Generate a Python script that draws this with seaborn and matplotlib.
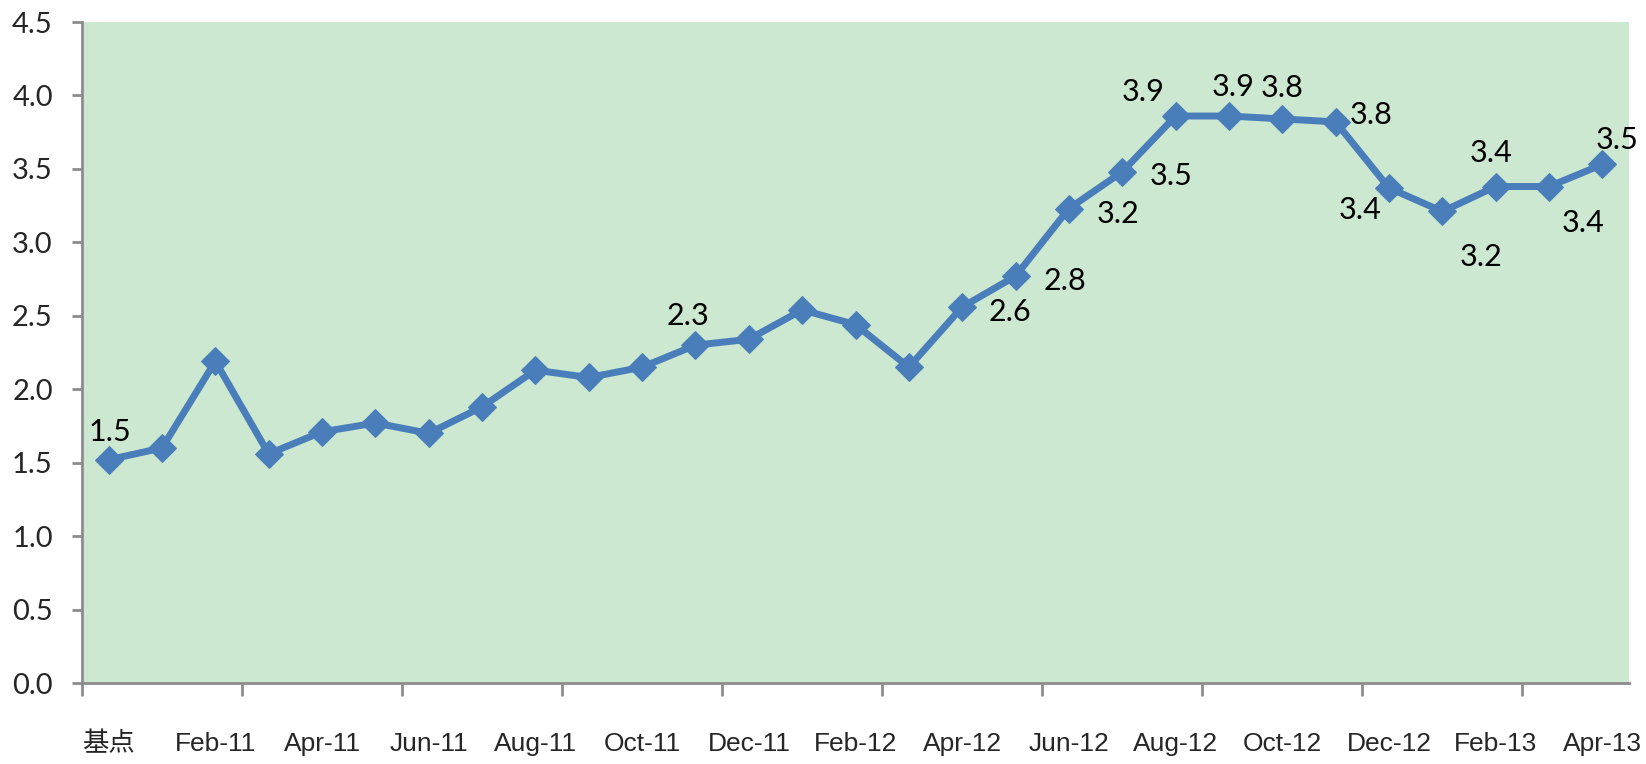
import numpy as np
import pandas as pd
import seaborn as sns
import matplotlib.pyplot as plt
from matplotlib import font_manager

months = ["基点", "Jan-11", "Feb-11", "Mar-11", "Apr-11", "May-11", "Jun-11",
          "Jul-11", "Aug-11", "Sep-11", "Oct-11", "Nov-11", "Dec-11",
          "Jan-12", "Feb-12", "Mar-12", "Apr-12", "May-12", "Jun-12",
          "Jul-12", "Aug-12", "Sep-12", "Oct-12", "Nov-12", "Dec-12",
          "Jan-13", "Feb-13", "Mar-13", "Apr-13"]
values = [1.52, 1.60, 2.19, 1.56, 1.71, 1.77, 1.70, 1.88, 2.13, 2.08,
          2.15, 2.30, 2.34, 2.54, 2.44, 2.15, 2.56, 2.77, 3.23, 3.48,
          3.86, 3.86, 3.84, 3.82, 3.37, 3.21, 3.38, 3.38, 3.53]
# which points get a data label
labelled = [0, 11, 16, 17, 18, 19, 20, 21, 22, 23, 24, 25, 26, 27, 28]

# label offsets in pixels (dx, dy), y up
label_offsets = {0: (1, 28), 11: (-7, 29), 16: (48, -5), 17: (49, -5),
                 18: (49, -5), 19: (49, -4), 20: (-32, 24), 21: (4, 29),
                 22: (0, 31), 23: (35, 7), 24: (-29, -22), 25: (39, -46),
                 26: (-5, 34), 27: (34, -36), 28: (15, 24)}

df = pd.DataFrame({"pos": np.arange(len(months)), "value": values})

installed = {f.name for f in font_manager.fontManager.ttflist}
narrow = "Liberation Sans Narrow" if "Liberation Sans Narrow" in installed else "Liberation Sans"
num_font = "Lato"

sns.set_style("white")
plt.rcParams["font.family"] = [narrow, "Noto Sans CJK SC", "DejaVu Sans"]

fig = plt.figure(figsize=(16.46, 7.64), dpi=100)
ax = fig.add_axes([0.0498, 0.106, 0.9399, 0.8652])
ax.set_facecolor("#CDE8D1")

line_color = "#4A7EBB"
sns.lineplot(data=df, x="pos", y="value", ax=ax, color=line_color,
             linewidth=5, marker="D", markersize=14,
             markeredgecolor=line_color, markerfacecolor=line_color)

for i in labelled:
    dx, dy = label_offsets[i]
    ax.annotate(f"{values[i]:.1f}", (i, values[i]), xytext=(dx, dy),
                textcoords="offset pixels", ha="center", va="center",
                fontsize=22, family=num_font, color="black")

ax.set_xlim(-0.5, len(months) - 0.5)
ax.set_ylim(0, 4.5)
ax.set_yticks(np.arange(0, 4.51, 0.5))
ax.set_yticklabels([f"{v:.1f}" for v in np.arange(0, 4.51, 0.5)],
                   family=num_font, fontsize=21)

# tick marks every 3 categories at boundaries, labels every 2 categories
ax.set_xticks(np.arange(-0.5, len(months) - 1, 3))
ax.set_xticklabels([])
ax.set_xticks(np.arange(0, len(months), 2), minor=True)
ax.set_xticklabels(months[::2], minor=True, fontsize=19)

spine_color = "#8C8C8C"
for s in ["top", "right"]:
    ax.spines[s].set_visible(False)
for s in ["left", "bottom"]:
    ax.spines[s].set_color(spine_color)
    ax.spines[s].set_linewidth(2)

ax.tick_params(axis="x", which="major", direction="out", length=9,
               width=2, color=spine_color, bottom=True)
ax.tick_params(axis="x", which="minor", length=0, pad=35, bottom=True)
ax.tick_params(axis="y", direction="out", length=7, width=2,
               color=spine_color, pad=14, left=True)
ax.set_xlabel("")
ax.set_ylabel("")

fig.savefig("out.png", dpi=100)
